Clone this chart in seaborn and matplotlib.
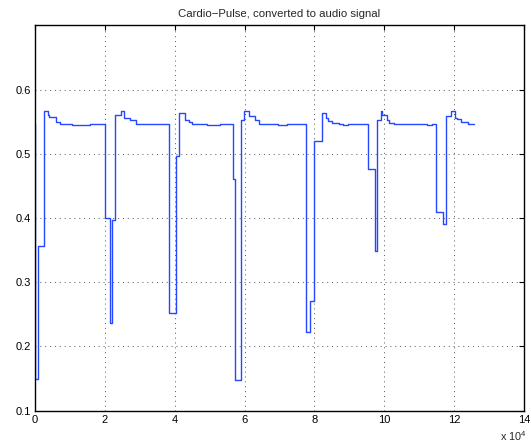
import matplotlib
matplotlib.use("Agg")
import matplotlib.pyplot as plt
import seaborn as sns
import pandas as pd

# step change positions (samples) and signal level from each position on
sample_pos = [0, 100, 950, 2450, 3630, 4010, 6100, 7160, 8780, 10700, 15800, 18800,
              19900, 21470, 21950, 23000, 24620, 25480, 27200, 28830,
              38400, 40400, 41230, 43030, 44090, 45040, 46700, 49150, 52960,
              56800, 57350, 58880, 59930, 61360, 62980, 64040, 68600, 69660, 72060,
              77700, 78830, 79870, 82080, 83400, 83970, 85030, 87030, 88270, 89700,
              95200, 97440, 97810, 99060, 99440, 100870, 101430, 102870, 112140, 113750,
              114800, 116800, 117750, 119000, 120330, 120810, 121960, 124050, 125680]
signal = [0.546, 0.149, 0.357, 0.567, 0.561, 0.557, 0.550, 0.547, 0.546, 0.545, 0.546, 0.547,
          0.400, 0.236, 0.397, 0.560, 0.566, 0.555, 0.552, 0.546,
          0.252, 0.496, 0.563, 0.552, 0.550, 0.547, 0.546, 0.545, 0.546,
          0.460, 0.148, 0.553, 0.566, 0.559, 0.552, 0.547, 0.546, 0.545, 0.546,
          0.222, 0.271, 0.520, 0.563, 0.556, 0.551, 0.548, 0.546, 0.545, 0.546,
          0.477, 0.349, 0.553, 0.566, 0.561, 0.552, 0.548, 0.546, 0.545, 0.546,
          0.409, 0.390, 0.559, 0.566, 0.556, 0.554, 0.549, 0.546, 0.546]

x_ticks = [0, 20000, 40000, 60000, 80000, 100000, 120000, 140000]
x_tick_labels = ["0", "2", "4", "6", "8", "10", "12", "14"]
y_ticks = [0.1, 0.2, 0.3, 0.4, 0.5, 0.6]
y_tick_labels = ["0.1", "0.2", "0.3", "0.4", "0.5", "0.6"]
title = "Cardio\u2212Pulse, converted to audio signal"

sns.set_style("white")
plt.rcParams["font.family"] = ["Liberation Sans", "DejaVu Sans"]
plt.rcParams["mathtext.fontset"] = "custom"
plt.rcParams["mathtext.rm"] = "Liberation Sans"

df = pd.DataFrame({"sample": sample_pos, "value": signal})

fig = plt.figure(figsize=(5.31, 4.45), dpi=100)
ax = fig.add_axes([0.0659, 0.0771, 0.9209, 0.866])

sns.lineplot(data=df, x="sample", y="value", ax=ax, estimator=None,
             drawstyle="steps-post", color="#2548ff", linewidth=1.0)

ax.set_xlim(0, 140000)
ax.set_ylim(0.1, 0.7)
ax.set_xticks(x_ticks)
ax.set_xticklabels(x_tick_labels)
ax.set_yticks(y_ticks)
ax.set_yticklabels(y_tick_labels)
ax.set_xlabel("")
ax.set_ylabel("")
ax.grid(True, linestyle=(0, (1, 4)), color="#555555", linewidth=0.7)
ax.tick_params(direction="in", length=3.5, width=0.8, labelsize=8,
               top=True, right=True, pad=3, colors="black")
for s in ax.spines.values():
    s.set_visible(True)
    s.set_color("black")
    s.set_linewidth(1.0)

ax.set_title(title, fontsize=8.2, pad=6)
fig.text(0.967, 0.004, r"x 10$^4$", fontsize=7.8, ha="center", va="bottom")

fig.savefig("out.png", dpi=100)
